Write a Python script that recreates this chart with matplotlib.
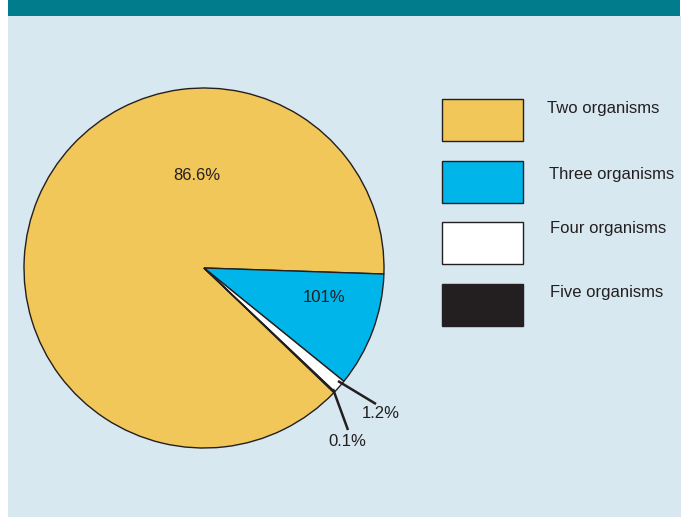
import matplotlib.pyplot as plt
from matplotlib.patches import Rectangle

plt.rcParams['font.family'] = ['Liberation Sans', 'DejaVu Sans']

# data
categories = ["Two organisms", "Three organisms", "Four organisms", "Five organisms"]
shares = [86.6, 10.1, 1.2, 0.1]
pct_labels = ["86.6%", "101%", "1.2%", "0.1%"]
colors = ["#F2C75A", "#00B5EA", "#FFFFFF", "#231F20"]

W, H = 683, 517
edge = "#231F20"
txt = "#231F20"

fig = plt.figure(figsize=(W / 100, H / 100), dpi=100)
fig.patch.set_facecolor("white")
ax = fig.add_axes([0, 0, 1, 1])

# background panel and header bar (pixel coords, y flipped)
ax.add_patch(Rectangle((8, 0), 673, H - 16, facecolor="#D7E8F0", edgecolor="none", zorder=0))
ax.add_patch(Rectangle((8, H - 16), 672, 16, facecolor="#007C8D", edgecolor="none", zorder=0))

cx, cy, r = 204, H - 268, 180
wedges, _ = ax.pie(shares, colors=colors, startangle=-43.8, counterclock=False,
                   center=(cx, cy), radius=r,
                   wedgeprops=dict(edgecolor=edge, linewidth=1.0))

# percentage labels
fs = 12
ax.text(197, H - 175, pct_labels[0], ha="center", va="center", fontsize=fs, color=txt)
ax.text(324, H - 298, pct_labels[1], ha="center", va="center", fontsize=fs, color=txt)

# leader lines for the thin slices
ax.plot([338, 376], [H - 381, H - 404], color=edge, lw=1.8, solid_capstyle="butt")
ax.plot([333, 348], [H - 389, H - 430], color=edge, lw=1.8, solid_capstyle="butt")
ax.text(381, H - 414, pct_labels[2], ha="center", va="center", fontsize=fs, color=txt)
ax.text(347, H - 442, pct_labels[3], ha="center", va="center", fontsize=fs, color=txt)

# legend
box_tops = [99, 161, 222, 284]
text_y = [108, 174, 229, 292]
text_x = [547, 549, 550, 550]
for i, lab in enumerate(categories):
    ec = colors[i] if colors[i] == "#231F20" else edge
    ax.add_patch(Rectangle((442, H - box_tops[i] - 42), 81, 42,
                           facecolor=colors[i], edgecolor=ec, linewidth=1.0))
    ax.text(text_x[i], H - text_y[i], lab, ha="left", va="center", fontsize=fs, color=txt)

ax.set_xlim(0, W)
ax.set_ylim(0, H)
ax.set_aspect("auto")
ax.axis("off")

fig.savefig("out.png", dpi=100, facecolor=fig.get_facecolor())
